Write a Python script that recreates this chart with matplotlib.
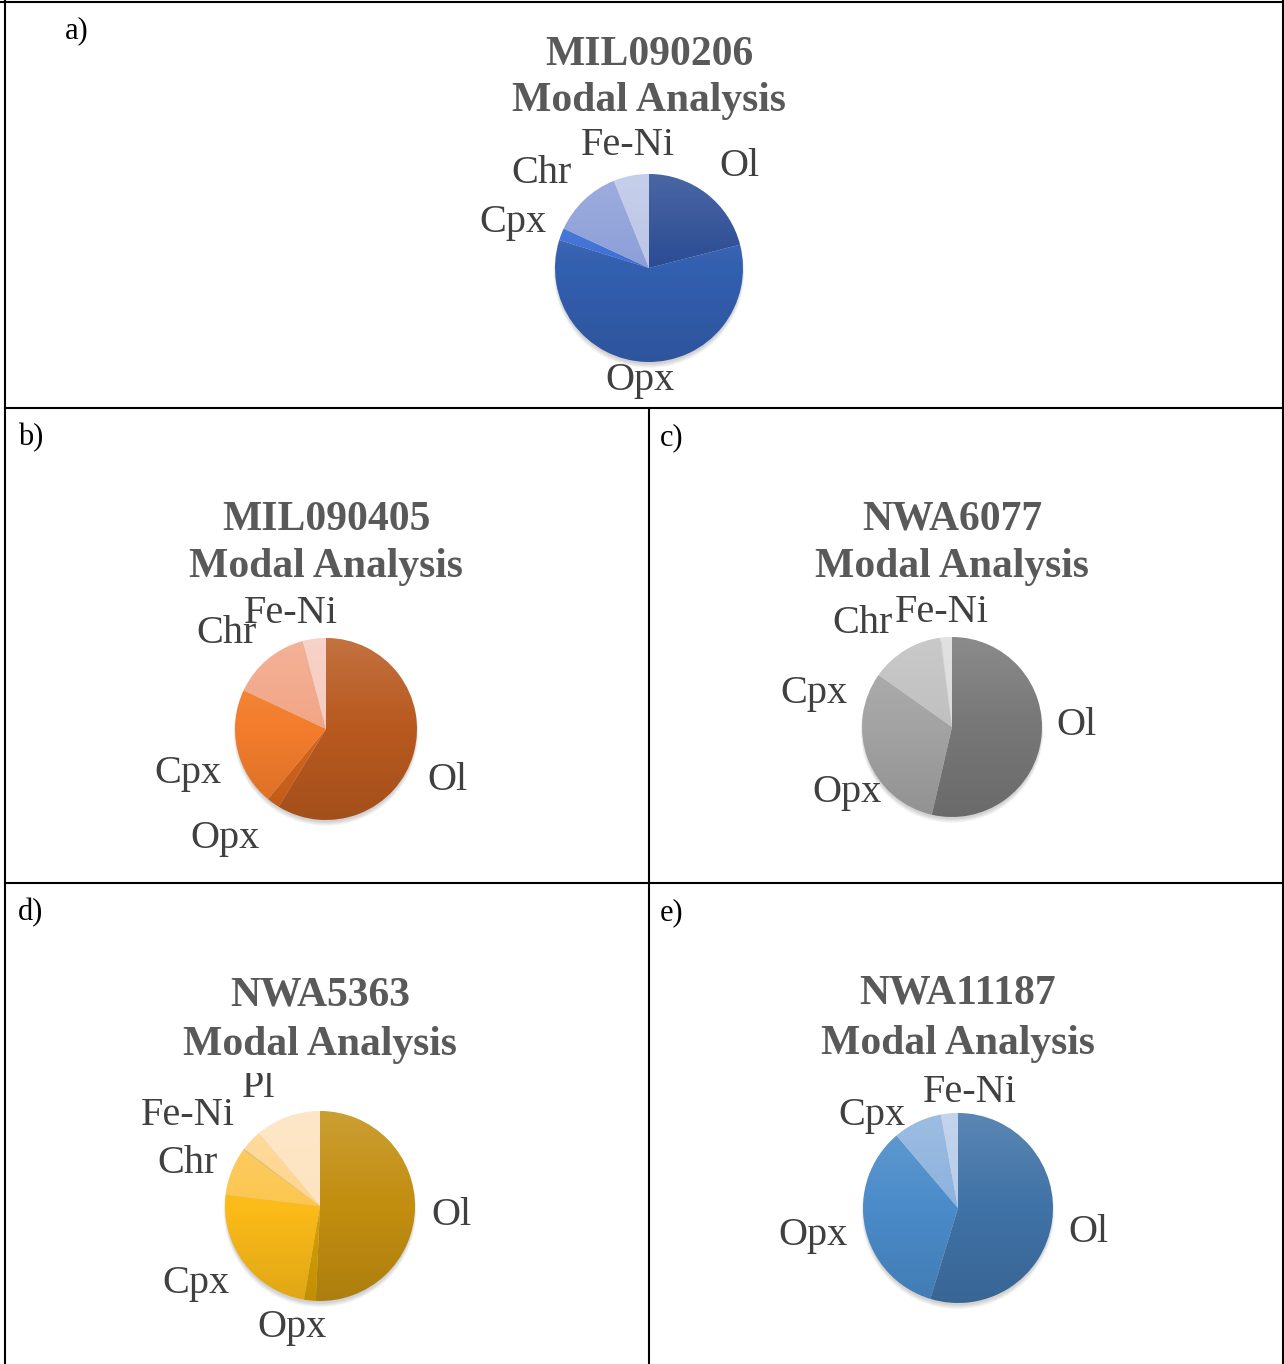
import numpy as np
import matplotlib
matplotlib.use("Agg")
import matplotlib.pyplot as plt
from matplotlib.patches import Circle
from matplotlib.transforms import Bbox, TransformedBbox

W, H, DPI = 1284, 1364, 100

# ---- modal abundances (vol %) ----
a_name = "MIL090206"
a_minerals = ["Ol", "Opx", "Cpx", "Chr", "Fe-Ni"]
a_modes = [21.0, 58.8, 2.1, 12.0, 6.1]

b_name = "MIL090405"
b_minerals = ["Ol", "Opx", "Cpx", "Chr", "Fe-Ni"]
b_modes = [58.7, 2.3, 21.0, 13.9, 4.1]

c_name = "NWA6077"
c_minerals = ["Ol", "Opx", "Cpx", "Chr", "Fe-Ni"]
c_modes = [53.6, 31.2, 13.1, 0.2, 1.9]

d_name = "NWA5363"
d_minerals = ["Ol", "Opx", "Cpx", "Chr", "Fe-Ni", "", "Pl"]
d_modes = [50.7, 2.0, 24.2, 8.1, 0.3, 3.6, 11.1]

e_name = "NWA11187"
e_minerals = ["Ol", "Opx", "Cpx", "Fe-Ni"]
e_modes = [54.7, 34.1, 8.3, 2.9]

# ---- palettes ----
a_colors = ["#2b4c94", "#335fb0", "#3d6fd6", "#8d9fd9", "#bcc6e6"]
b_colors = ["#b8591f", "#d6651c", "#f27c2b", "#f2a586", "#f6cbbf"]
c_colors = ["#777777", "#a3a3a3", "#c0c0c0", "#cfcfcf", "#dcdcdc"]
d_colors = ["#c28e10", "#d9a005", "#fbbb18", "#fcc650", "#e8b860", "#fdd68e", "#fde3bf"]
e_colors = ["#3f72a6", "#4a8bc9", "#8cb2de", "#b9cde9"]

SERIF = ["Liberation Serif", "DejaVu Serif"]
TITLE_C = "#595959"
LABEL_C = "#404040"

fig = plt.figure(figsize=(W / DPI, H / DPI), dpi=DPI)
base = fig.add_axes([0, 0, 1, 1])
base.set_xlim(0, W)
base.set_ylim(H, 0)
base.axis("off")

# table grid
lw = 1.5
base.plot([0, W], [2, 2], color="black", lw=lw)
base.plot([5, 5], [0, H], color="black", lw=lw)
base.plot([W - 1, W - 1], [0, H], color="black", lw=lw)
base.plot([5, W], [408, 408], color="black", lw=lw)
base.plot([5, W], [883, 883], color="black", lw=lw)
base.plot([649, 649], [408, H], color="black", lw=lw)

# panel letters
for txt, x, y in [("a)", 65, 38), ("b)", 18, 445), ("c)", 660, 445),
                  ("d)", 18, 920), ("e)", 660, 920)]:
    base.text(x, y, txt, fontsize=22, family=SERIF, color="black",
              ha="left", va="baseline")


def draw_pie(name, minerals, modes, colors, cx, cy, r, title_y, label_pos,
             clip_top=None):
    # title
    base.text(cx, title_y[0], name, fontsize=30, fontweight="bold",
              family=SERIF, color=TITLE_C, ha="center", va="baseline")
    base.text(cx, title_y[1], "Modal Analysis", fontsize=30, fontweight="bold",
              family=SERIF, color=TITLE_C, ha="center", va="baseline")

    pad = 1.1
    ax = fig.add_axes([(cx - pad * r) / W, 1 - (cy + pad * r) / H,
                       2 * pad * r / W, 2 * pad * r / H])
    ax.set_xlim(-pad, pad)
    ax.set_ylim(-pad, pad)
    ax.axis("off")

    # soft drop shadow, mostly below the disc
    for k in range(6):
        ax.add_patch(Circle((0.0, -0.03 - 0.004 * k), 0.99 + 0.005 * k,
                            color="black", alpha=0.03, lw=0, zorder=0))

    wedges, _ = ax.pie(modes, colors=colors, startangle=90, counterclock=False,
                       radius=1.0, wedgeprops=dict(linewidth=0))
    for w_ in wedges:
        w_.set_zorder(1)

    # vertical light-to-dark sheen across the disc
    n = 256
    t = np.linspace(0, 1, n)[:, None]
    shade = np.zeros((n, 1, 4))
    top = t < 0.5
    shade[..., :3] = np.where(top[..., None], 1.0, 0.0)
    shade[..., 3] = np.where(top, (0.5 - t) * 0.30, (t - 0.5) * 0.22)
    im = ax.imshow(shade, extent=(-1, 1, -1, 1), origin="upper",
                   aspect="auto", zorder=2, interpolation="bilinear")
    disc = Circle((0, 0), 1.0, transform=ax.transData)
    im.set_clip_path(disc)
    ax.set_xlim(-pad, pad)
    ax.set_ylim(-pad, pad)

    # category labels
    for lab, (lx, ly) in zip(minerals, label_pos):
        if not lab:
            continue
        t_ = base.text(lx, ly, lab, fontsize=29, family=SERIF, color=LABEL_C,
                       ha="center", va="baseline")
        if clip_top is not None and lab == "Pl":
            bb = TransformedBbox(Bbox([[0, clip_top], [W, H]]), base.transData)
            t_.set_clip_box(bb)
            t_.set_clip_on(True)


draw_pie(a_name, a_minerals, a_modes, a_colors, 649, 268, 94, (65, 111),
         [(739, 176), (640, 390), (513, 232), (542, 183), (628, 155)])
draw_pie(b_name, b_minerals, b_modes, b_colors, 326, 729, 91, (530, 577),
         [(447, 790), (225, 848), (188, 783), (227, 643), (291, 623)])
draw_pie(c_name, c_minerals, c_modes, c_colors, 952, 727, 90, (530, 577),
         [(1076, 735), (847, 802), (814, 703), (863, 633), (942, 622)])
draw_pie(d_name, d_minerals, d_modes, d_colors, 320, 1206, 95, (1005, 1055),
         [(451, 1225), (292, 1337), (196, 1293), (188, 1173), (188, 1125),
          (0, 0), (259, 1097)], clip_top=1073)
draw_pie(e_name, e_minerals, e_modes, e_colors, 958, 1208, 95, (1004, 1054),
         [(1088, 1242), (813, 1245), (872, 1125), (970, 1102)])

fig.savefig("out.png", dpi=DPI)
